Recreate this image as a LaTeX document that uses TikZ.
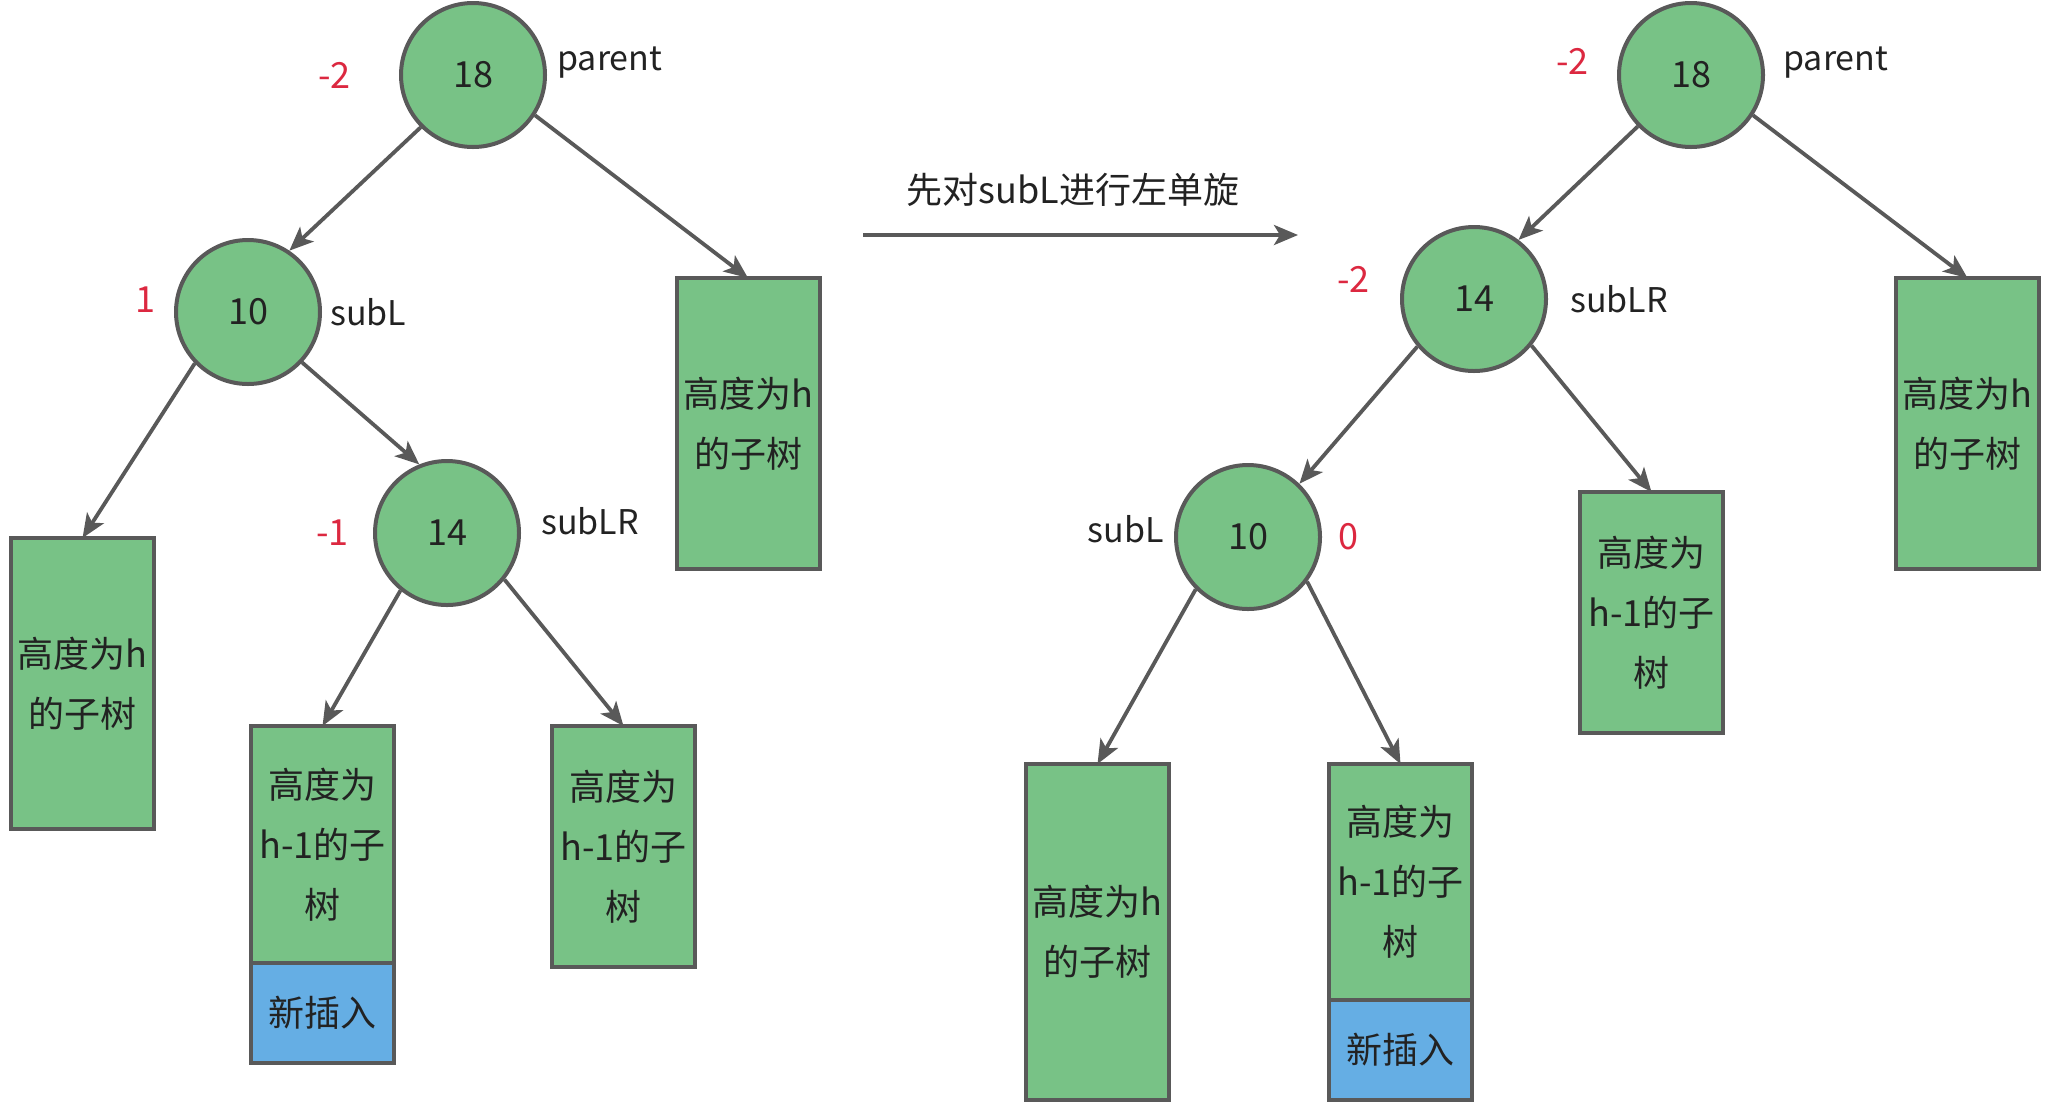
\documentclass[tikz,border=0pt]{standalone}
\usepackage{fontspec}
\setmainfont{Noto Sans CJK SC}
\usetikzlibrary{arrows.meta, positioning}
\definecolor{cedge}{HTML}{595959}
\definecolor{cgreen}{HTML}{78C286}
\definecolor{cblue}{HTML}{65AEE4}
\definecolor{cbf}{HTML}{DC2840}
\definecolor{ctext}{HTML}{222222}

\begin{document}
\begin{tikzpicture}[x=0.5pt, y=-0.5pt, font=\fontsize{18}{30}\selectfont, text=ctext,
    nd/.style={circle, draw=cedge, fill=cgreen, line width=2pt, minimum size=72pt, inner sep=0pt},
    sub/.style={draw=cedge, fill=cgreen, line width=2pt, minimum width=71.5pt,
                inner sep=0pt, outer sep=0pt, align=center},
    ins/.style={sub, fill=cblue, minimum height=50pt},
    bf/.style={text=cbf, inner sep=0pt},
    tag/.style={inner sep=0pt, font=\fontsize{17}{20}\selectfont},
    edge/.style={-{Stealth[length=12pt, width=10pt, inset=3pt]}, draw=cedge, line width=1.9pt}]
  \useasboundingbox (0,0) rectangle (2054,1109);

  % before the rotation
  \node[nd] (n18) at (473,75) {18};
  \node[nd] (n10) at (248,312) {10};
  \node[nd] (n14) at (447,533) {14};
  \node[bf, left=24pt of n18] (b18) {-2};
  \node[tag, right=5pt of n18, yshift=6pt] (t18) {parent};
  \node[bf, left=9pt of n10, yshift=6pt] (b10) {1};
  \node[tag, right=4pt of n10] (t10) {subL};
  \node[bf, left=12pt of n14] (b14) {-1};
  \node[tag, right=10pt of n14, yshift=6pt] (t14) {subLR};

  \node[sub, minimum height=145.5pt] (lbox) at (82.5,683.5) {高度为h\\的子树};
  \node[sub, minimum height=145.5pt] (pbox) at (748,423.5) {高度为h\\的子树};
  \node[sub, minimum height=118.5pt] (l14a) at (322.5,844.5) {高度为\\h-1的子\\树};
  \node[ins, below=0pt of l14a] (l14new) {新插入};
  \node[sub, minimum height=120.5pt] (l14b) at (623.5,846.5) {高度为\\h-1的子\\树};

  \draw[edge] (n18.225) -- (n10.56);
  \draw[edge] (n18.-33) -- (pbox.north);
  \draw[edge] (n10.224) -- (lbox.north);
  \draw[edge] (n10.-43) -- (n14.112);
  \draw[edge] (n14.231) -- (l14a.north);
  \draw[edge] (n14.-39) -- (l14b.north);

  % the rotation step
  \node (rot) at (1073,190) {先对subL进行左单旋};
  \coordinate (a0) at (863,235);
  \coordinate (a1) at (1298,235);
  \draw[edge] (a0) -- (a1);

  % after the left rotation of subL
  \node[nd] (m18) at (1691,75) {18};
  \node[nd] (m14) at (1474,299) {14};
  \node[nd] (m10) at (1248,537) {10};
  \node[bf, left=14pt of m18, yshift=7pt] (c18) {-2};
  \node[tag, right=9pt of m18, yshift=6pt] (s18) {parent};
  \node[bf, left=15pt of m14, yshift=10pt] (c14) {-2};
  \node[tag, right=11pt of m14] (s14) {subLR};
  \node[tag, left=5pt of m10, yshift=4pt] (s10) {subL};
  \node[bf, right=8pt of m10] (c10) {0};

  \node[sub, minimum height=145.5pt] (rbox) at (1967.5,423.5) {高度为h\\的子树};
  \node[sub, minimum height=120.5pt] (r14b) at (1651.5,612.5) {高度为\\h-1的子\\树};
  \node[sub, minimum height=168pt] (r10a) at (1097.5,932) {高度为h\\的子树};
  \node[sub, minimum height=118pt] (r10b) at (1400.5,882) {高度为\\h-1的子\\树};
  \node[ins, below=0pt of r10b] (r10new) {新插入};

  \draw[edge] (m18.224) -- (m14.53);
  \draw[edge] (m18.-33) -- (rbox.north);
  \draw[edge] (m14.220) -- (m10.46);
  \draw[edge] (m14.-39) -- (r14b.north);
  \draw[edge] (m10.225) -- (r10a.north);
  \draw[edge] (m10.-37) -- (r10b.north);
\end{tikzpicture}
\end{document}
